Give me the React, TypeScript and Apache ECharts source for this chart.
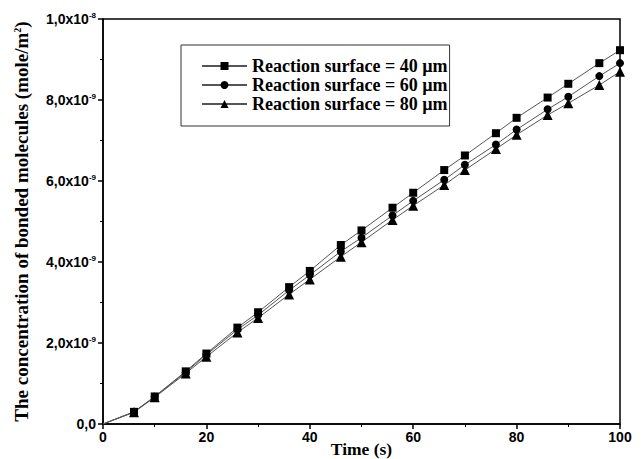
import React, { useEffect, useRef } from "react";
import * as echarts from "echarts";

const times = [0, 6, 10, 16, 20, 26, 30, 36, 40, 46, 50, 56, 60, 66, 70, 76, 80, 86, 90, 96, 100];
// values in units of 1e-9 mole/m^2
const surface40 = [0, 0.30, 0.68, 1.30, 1.74, 2.38, 2.76, 3.38, 3.78, 4.42, 4.78, 5.34, 5.71, 6.27, 6.63, 7.18, 7.56, 8.06, 8.40, 8.91, 9.23];
const surface60 = [0, 0.30, 0.67, 1.28, 1.71, 2.33, 2.69, 3.30, 3.68, 4.26, 4.60, 5.15, 5.51, 6.03, 6.40, 6.90, 7.27, 7.77, 8.08, 8.59, 8.91];
const surface80 = [0, 0.29, 0.66, 1.25, 1.66, 2.26, 2.62, 3.20, 3.57, 4.13, 4.49, 5.04, 5.39, 5.90, 6.27, 6.79, 7.14, 7.63, 7.92, 8.37, 8.70];
const seriesNames = ["Reaction surface = 40 µm", "Reaction surface = 60 µm", "Reaction surface = 80 µm"];
const symbols = ["rect", "circle", "triangle"];
const scale = 1e-9;

function fmtY(v: number): string {
  if (Math.abs(v) < 1e-15) return "0,0";
  const n = Math.round(v / scale);
  if (n % 2 !== 0) return "";
  if (n >= 10) return "1,0x10{sup|-8}";
  return n + ",0x10{sup|-9}";
}

export default function App() {
  const ref = useRef<HTMLDivElement>(null);
  useEffect(() => {
    if (!ref.current) return;
    const chart = echarts.init(ref.current, null, { renderer: "svg" });
    const all = [surface40, surface60, surface80];
    const series = all.map((vals, i) => ({
      name: seriesNames[i],
      type: "line",
      symbol: symbols[i],
      symbolSize: i === 2 ? 10 : 8,
      showAllSymbol: true,
      data: vals.map((v, j) =>
        j === 0 ? { value: [times[j], v * scale], symbolSize: 0 } : [times[j], v * scale]
      ),
      lineStyle: { color: "#555", width: 1 },
      itemStyle: { color: "#000" },
      z: 3 - i,
    }));
    chart.setOption({
      animation: false,
      backgroundColor: "#fff",
      grid: {
        left: 103,
        right: 24,
        top: 19,
        bottom: 35,
        show: true,
        borderColor: "#000",
        borderWidth: 1.5,
        containLabel: false,
        outerBoundsMode: "none",
      },
      legend: {
        orient: "vertical",
        left: 181,
        top: 45,
        data: seriesNames,
        itemWidth: 45,
        itemHeight: 10,
        itemGap: 1,
        padding: [12, 2, 13, 20],
        borderColor: "#333",
        borderWidth: 1,
        textStyle: {
          fontFamily: "Liberation Serif",
          fontWeight: "bold",
          fontSize: 18,
          color: "#000",
        },
      },
      xAxis: {
        type: "value",
        min: 0,
        max: 100,
        interval: 20,
        name: "Time (s)",
        nameLocation: "middle",
        nameGap: 16,
        nameMoveOverlap: false,
        nameTextStyle: {
          fontFamily: "Liberation Serif",
          fontWeight: "bold",
          fontSize: 17.5,
          color: "#000",
        },
        axisLine: { show: true, onZero: false, lineStyle: { color: "#000", width: 1.5 } },
        axisTick: { show: true, inside: false, length: 5, lineStyle: { color: "#000", width: 1.5 } },
        minorTick: { show: true, splitNumber: 2, length: 3, lineStyle: { color: "#000", width: 1 } },
        splitLine: { show: false },
        axisLabel: {
          fontFamily: "Liberation Sans",
          fontWeight: "bold",
          fontSize: 14,
          color: "#000",
          margin: 6,
        },
      },
      yAxis: {
        type: "value",
        min: 0,
        max: 1e-8,
        interval: 2e-9,
        name: "The concentration of bonded molecules (mole/m{sup|2})",
        nameLocation: "middle",
        nameGap: 72,
        nameMoveOverlap: false,
        nameRotate: 90,
        nameTextStyle: {
          fontFamily: "Liberation Serif",
          fontWeight: "bold",
          fontSize: 19,
          color: "#000",
          rich: {
            sup: {
              fontFamily: "Liberation Serif",
              fontWeight: "bold",
              fontSize: 10,
              verticalAlign: "top",
              padding: [0, 0, 9, 0],
            },
          },
        },
        axisLine: { show: true, lineStyle: { color: "#000", width: 1.5 } },
        axisTick: { show: true, inside: false, length: 5, lineStyle: { color: "#000", width: 1.5 } },
        minorTick: { show: true, splitNumber: 2, length: 3, lineStyle: { color: "#000", width: 1 } },
        splitLine: { show: false },
        axisLabel: {
          fontFamily: "Liberation Sans",
          fontWeight: "bold",
          fontSize: 14,
          color: "#000",
          margin: 7,
          formatter: fmtY,
          rich: {
            sup: {
              fontFamily: "Liberation Sans",
              fontWeight: "bold",
              fontSize: 8,
              verticalAlign: "top",
              padding: [0, 0, 8, 0],
            },
          },
        },
      },
      series,
    });
    return () => chart.dispose();
  }, []);
  return (
    <div
      ref={ref}
      style={{ position: "absolute", left: 0, top: 0, width: 644, height: 459 }}
    />
  );
}
